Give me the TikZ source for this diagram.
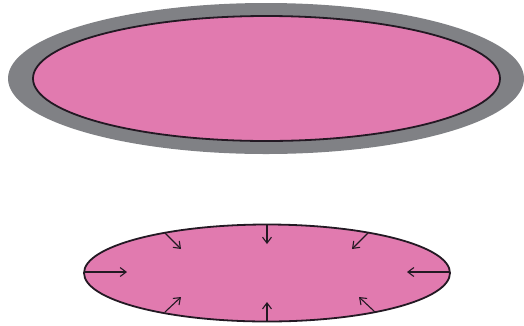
\documentclass[tikz,border=0pt]{standalone}
\usetikzlibrary{arrows.meta}
\definecolor{cellpink}{RGB}{225,122,175}
\definecolor{wallgray}{RGB}{128,129,133}
\definecolor{edgedark}{RGB}{35,25,35}
\tikzset{
  membrane/.style={fill=cellpink, draw=edgedark, line width=1.8pt},
  pressure/.style={draw=edgedark, line width=1.1pt, -{Straight Barb[length=6pt,width=9pt,line width=1.1pt]}}
}
\begin{document}
\begin{tikzpicture}[x=1pt,y=-1pt]
\useasboundingbox (0,0) rectangle (524,325);
% top: cell with wall
\fill[wallgray] (266,78.5) ellipse [x radius=258, y radius=75.5];
\draw[membrane] (266.5,78.5) ellipse [x radius=233.5, y radius=62.5];
% bottom: cell alone
\draw[membrane] (267,273) ellipse [x radius=183, y radius=48.5];
\coordinate (l0) at (84,272);   \coordinate (l1) at (127,272);
\coordinate (r0) at (450,272);  \coordinate (r1) at (407,272);
\coordinate (t0) at (267,224.5);\coordinate (t1) at (267,244);
\coordinate (b0) at (267,321.5);\coordinate (b1) at (267,302);
\coordinate (ul0) at (165,233); \coordinate (ul1) at (181,249);
\coordinate (ll0) at (165,312); \coordinate (ll1) at (181,297);
\coordinate (ur0) at (368,233); \coordinate (ur1) at (352,249);
\coordinate (lr0) at (375,312); \coordinate (lr1) at (359,297);
\foreach \a in {l,r,t,b,ul,ll,ur,lr}
  \draw[pressure] (\a0) -- (\a1);
\end{tikzpicture}
\end{document}
